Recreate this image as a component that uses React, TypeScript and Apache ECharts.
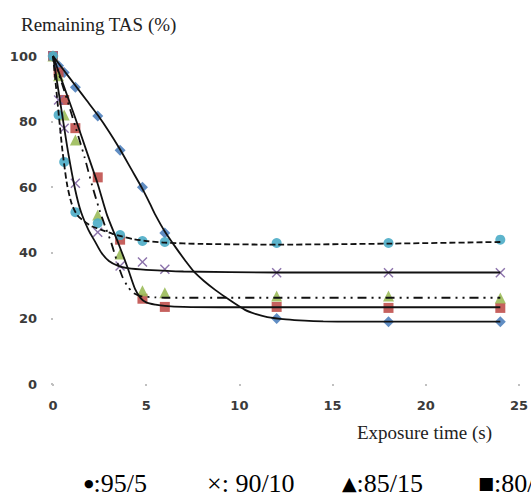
import React, { useEffect, useRef } from 'react';
import * as echarts from 'echarts';

// Exposure times (s)
const timePoints = [0, 0.3, 0.6, 1.2, 2.4, 3.6, 4.8, 6, 12, 18, 24];

// Measured remaining TAS (%)
const tas95_5 = [100, 82, 67.7, 52.4, 49, 45.4, 43.6, 43.3, 43, 43, 44];
const tas90_10 = [100, 86.6, 78, 61.2, 46.3, 36, 37.2, 35, 33.9, 33.9, 33.9];
const tas85_15 = [100, 94, 82, 74.4, 51.5, 39.6, 28.4, 27.8, 26.8, 26.8, 26.2];
const tas80_20 = [100, 95, 86.6, 78, 63, 44, 26, 23.5, 23.5, 23.2, 23.2];
const tasBlue = [100, 97, 95, 90.5, 81.7, 71.3, 60, 46, 20, 19, 19];

// Fitted curves: [time, value]
const fit95_5: number[][] = [[0, 100], [0.25, 85.5], [0.5, 71.5], [0.75, 61], [1.0, 55], [1.3, 51.5], [1.7, 49.5], [2.1, 48], [2.6, 47], [3.2, 45.8], [3.7, 45], [4.3, 44.2], [5, 43.6], [6, 43.1], [8, 42.7], [12, 42.5], [18, 42.8], [24, 43.3]];
const fit90_10: number[][] = [[0, 100], [0.4, 85.5], [0.8, 71], [1.2, 59], [1.5, 52.5], [1.9, 47], [2.25, 43.5], [2.6, 40], [3.0, 37.5], [3.5, 36], [4, 35.3], [5, 34.8], [7, 34.3], [12, 34], [24, 34]];
const fit85_15: number[][] = [[0, 100], [0.6, 89.5], [1.2, 78.5], [1.7, 69], [2.1, 60.5], [2.5, 53], [2.8, 48], [3.1, 43.5], [3.4, 38], [3.7, 33], [4.0, 29.8], [4.3, 27.8], [4.7, 26.8], [5.5, 26.4], [6, 26.3], [24, 26.3]];
const fit80_20: number[][] = [[0, 100], [0.6, 90.5], [1.2, 81], [1.8, 71], [2.4, 61], [2.9, 51.5], [3.5, 43], [4.0, 35.5], [4.4, 29], [4.7, 26.2], [5.0, 24.9], [5.5, 24.2], [6, 23.8], [7, 23.5], [9, 23.4], [24, 23.4]];
const fitBlue: number[][] = [[0, 100], [0.6, 95.5], [1.2, 91], [1.8, 86.5], [2.4, 82], [3, 77], [3.6, 71.5], [4.2, 65.5], [4.8, 59.5], [5.2, 55], [5.5, 51.5], [6, 46.5], [6.6, 41.5], [7.1, 37.6], [7.6, 34], [8.1, 31.4], [8.7, 28.7], [9.5, 25.5], [10.3, 22.6], [10.9, 21.3], [11.5, 20.4], [12.5, 19.7], [13.5, 19.3], [14.5, 19.1], [16, 19], [24, 19]];

const yTicks = [0, 20, 40, 60, 80, 100];
const xTicks = [0, 5, 10, 15, 20, 25];

const crossPath = 'path://M0,1 L1,0 L5,4 L9,0 L10,1 L6,5 L10,9 L9,10 L5,6 L1,10 L0,9 L4,5 Z';

function pts(values: number[]): number[][] {
  return timePoints.map((t, i) => [t, values[i]]);
}

export default function App() {
  const ref = useRef<HTMLDivElement>(null);
  useEffect(() => {
    if (!ref.current) return;
    const chart = echarts.init(ref.current, undefined, { renderer: 'svg' });
    const tickLabel = { fontFamily: 'DejaVu Sans', fontWeight: 'bold' as const, fontSize: 13, color: '#3a3a3a' };
    const scatter = (data: number[][], symbol: string, color: string, size: number) => ({
      type: 'scatter',
      data,
      symbol,
      symbolSize: size,
      itemStyle: { color, opacity: 0.9 },
      z: 2,
    });
    const fit = (data: number[][], type: any) => ({
      type: 'line',
      data,
      smooth: 0.25,
      symbol: 'none',
      lineStyle: { color: '#111', width: 1.8, type },
      z: 3,
    });
    const serif = 'Liberation Serif';
    const axisTitle = (text: string, left: number, top: number) => ({
      text, left, top, padding: 0,
      textStyle: { fontFamily: serif, fontSize: 19, fontWeight: 'normal', color: '#222' },
    });
    const legendItem = (text: string, symSize: number, left: number) => ({
      text, left, top: 470, padding: 0,
      textStyle: {
        fontFamily: serif, fontSize: 26, fontWeight: 'normal', color: '#000', lineHeight: 26,
        rich: {
          m: { fontFamily: 'DejaVu Sans', fontSize: symSize, color: '#000', lineHeight: 26 },
          t: { fontFamily: serif, fontSize: 26, color: '#000', lineHeight: 26 },
        },
      },
    });
    chart.setOption({
      animation: false,
      title: [
        axisTitle('Remaining TAS (%)', 21, 15),
        axisTitle('Exposure time (s)', 357, 423),
        legendItem('{m|●}{t|:95/5}', 11, 84),
        legendItem('{t|×: 90/10}', 26, 207),
        legendItem('{m|▲}{t|:85/15}', 19, 342),
        legendItem('{m|■}{t|:80/20}', 17, 478),
      ],
      grid: { left: 53, right: 9, top: 56, bottom: 114 },
      xAxis: {
        type: 'value',
        min: xTicks[0],
        max: xTicks[xTicks.length - 1],
        interval: 5,
        axisLine: { show: false },
        axisTick: { show: true, length: 2, lineStyle: { color: '#c0c0c0', width: 2 } },
        splitLine: { show: false },
        axisLabel: { ...tickLabel, margin: 15 },
      },
      yAxis: {
        type: 'value',
        min: yTicks[0],
        max: yTicks[yTicks.length - 1],
        interval: 20,
        axisLine: { show: false },
        axisTick: { show: true, length: 2, lineStyle: { color: '#c0c0c0', width: 2 } },
        splitLine: { show: false },
        axisLabel: { ...tickLabel, margin: 16 },
      },
      series: [
        scatter(pts(tasBlue), 'diamond', '#4F81BD', 11),
        scatter(pts(tas80_20), 'rect', '#C0504D', 10),
        scatter(pts(tas85_15), 'triangle', '#9BBB59', 11),
        scatter(pts(tas90_10), crossPath, '#8064A2', 10),
        scatter(pts(tas95_5), 'circle', '#4BACC6', 10),
        fit(fitBlue, 'solid'),
        fit(fit80_20, 'solid'),
        fit(fit85_15, [9, 5, 2, 5, 2, 5]),
        fit(fit90_10, 'solid'),
        fit(fit95_5, [6, 3]),
      ],
    } as any);
    return () => chart.dispose();
  }, []);
  return <div ref={ref} style={{ position: 'fixed', left: 0, top: 0, width: 531, height: 498, background: '#fff' }} />;
}
